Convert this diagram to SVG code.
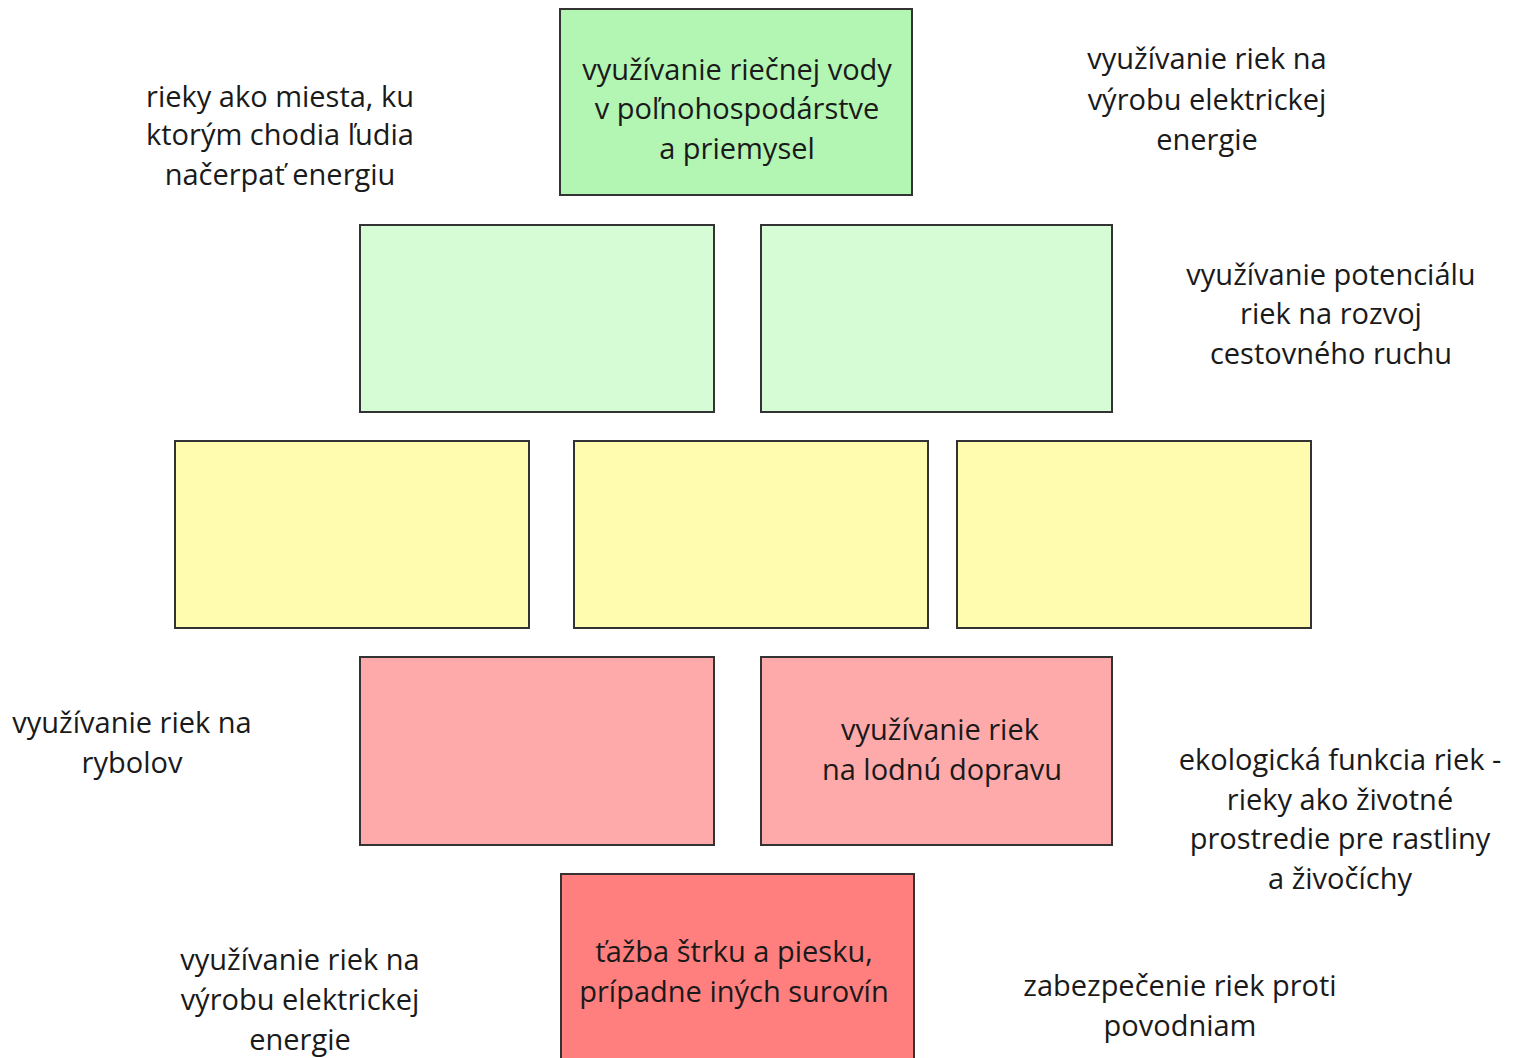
<svg xmlns="http://www.w3.org/2000/svg" width="1514" height="1058" viewBox="0 0 1514 1058">
<style>
.box{stroke:#333;stroke-width:2}
.g1{fill:#b3f5b3}
.g2{fill:#d6fcd6}
.y{fill:#fffcb0}
.r1{fill:#ffaaaa}
.r2{fill:#ff7f7f}
text{font-family:"Open Sans","Noto Sans","DejaVu Sans",sans-serif;font-size:29px;fill:#1a1a1a;text-anchor:middle}
</style>
<rect width="1514" height="1058" fill="#ffffff"/>
<g id="connectors"></g>
<g id="n-top">
<rect class="box g1" x="560" y="9" width="352" height="186"/>
<text x="737" y="80">využívanie riečnej vody</text>
<text x="737" y="119">v poľnohospodárstve</text>
<text x="737" y="159">a priemysel</text>
</g>
<g id="n-r2a"><rect class="box g2" x="360" y="225" width="354" height="187"/></g>
<g id="n-r2b"><rect class="box g2" x="761" y="225" width="351" height="187"/></g>
<g id="n-r3a"><rect class="box y" x="175" y="441" width="354" height="187"/></g>
<g id="n-r3b"><rect class="box y" x="574" y="441" width="354" height="187"/></g>
<g id="n-r3c"><rect class="box y" x="957" y="441" width="354" height="187"/></g>
<g id="n-r4a"><rect class="box r1" x="360" y="657" width="354" height="188"/></g>
<g id="n-r4b">
<rect class="box r1" x="761" y="657" width="351" height="188"/>
<text x="940" y="740">využívanie riek</text>
<text x="942" y="780">na lodnú dopravu</text>
</g>
<g id="n-bottom">
<rect class="box r2" x="561" y="874" width="353" height="200"/>
<text x="734" y="962">ťažba štrku a piesku,</text>
<text x="734" y="1002">prípadne iných surovín</text>
</g>
<g id="t-energia">
<text x="280" y="107">rieky ako miesta, ku</text>
<text x="280" y="145">ktorým chodia ľudia</text>
<text x="280" y="185">načerpať energiu</text>
</g>
<g id="t-elektrina1">
<text x="1207" y="69">využívanie riek na</text>
<text x="1207" y="110">výrobu elektrickej</text>
<text x="1207" y="150">energie</text>
</g>
<g id="t-cestovny">
<text x="1331" y="285">využívanie potenciálu</text>
<text x="1331" y="324">riek na rozvoj</text>
<text x="1331" y="364">cestovného ruchu</text>
</g>
<g id="t-rybolov">
<text x="132" y="733">využívanie riek na</text>
<text x="132" y="773">rybolov</text>
</g>
<g id="t-ekologicka">
<text x="1340" y="770">ekologická funkcia riek -</text>
<text x="1340" y="810">rieky ako životné</text>
<text x="1340" y="849">prostredie pre rastliny</text>
<text x="1340" y="889">a živočíchy</text>
</g>
<g id="t-elektrina2">
<text x="300" y="970">využívanie riek na</text>
<text x="300" y="1010">výrobu elektrickej</text>
<text x="300" y="1050">energie</text>
</g>
<g id="t-povodne">
<text x="1180" y="996">zabezpečenie riek proti</text>
<text x="1180" y="1036">povodniam</text>
</g>
</svg>
